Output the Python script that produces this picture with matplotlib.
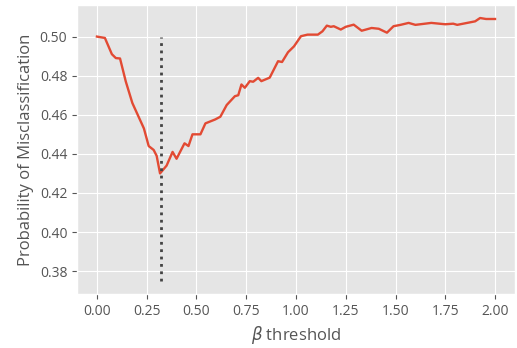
import matplotlib
matplotlib.use("Agg")
import matplotlib.pyplot as plt

# beta threshold sweep
beta = [0.0, 0.04, 0.075, 0.095, 0.116, 0.145, 0.178, 0.236, 0.26, 0.285,
        0.30, 0.317, 0.35, 0.38, 0.40, 0.44, 0.46, 0.48, 0.52, 0.545,
        0.594, 0.62, 0.652, 0.693, 0.71, 0.726, 0.743, 0.768, 0.785, 0.81,
        0.826, 0.868, 0.91, 0.93, 0.96, 0.99, 1.025, 1.058, 1.11, 1.133,
        1.155, 1.175, 1.19, 1.225, 1.25, 1.29, 1.33, 1.38, 1.416, 1.457,
        1.49, 1.525, 1.566, 1.60, 1.68, 1.75, 1.79, 1.81, 1.86, 1.90,
        1.925, 1.955, 2.0]
p_miscls = [0.500, 0.4993, 0.491, 0.489, 0.4888, 0.477, 0.466, 0.453, 0.444, 0.442,
            0.439, 0.430, 0.434, 0.441, 0.4375, 0.4454, 0.444, 0.450, 0.450, 0.4556,
            0.4576, 0.459, 0.465, 0.4695, 0.470, 0.4755, 0.4738, 0.4772, 0.4769, 0.4789,
            0.4772, 0.479, 0.4874, 0.487, 0.492, 0.495, 0.5002, 0.501, 0.501, 0.5027,
            0.5056, 0.505, 0.5053, 0.5036, 0.505, 0.5061, 0.503, 0.5044, 0.504, 0.502,
            0.5053, 0.506, 0.507, 0.506, 0.507, 0.5063, 0.5066, 0.506, 0.507, 0.5078,
            0.5095, 0.509, 0.509]

best_beta = 0.32
vline_lo, vline_hi = 0.375, 0.50

plt.style.use("ggplot")
plt.rcParams["font.family"] = ["Open Sans", "DejaVu Sans"]

fig, ax = plt.subplots(figsize=(5.17, 3.48), dpi=100)
ax.plot(beta, p_miscls, lw=1.7)
ax.vlines(best_beta, vline_lo, vline_hi, colors="#444444", linestyles=":", lw=2)

ax.set_xlabel(r"$\beta$ threshold", fontsize=12)
ax.set_ylabel("Probability of Misclassification", fontsize=12)
ax.tick_params(labelsize=10)
ax.set_xticks([0, 0.25, 0.5, 0.75, 1.0, 1.25, 1.5, 1.75, 2.0])

fig.subplots_adjust(left=0.149, right=0.996, top=0.986, bottom=0.155)
fig.savefig("out.png", dpi=100)
